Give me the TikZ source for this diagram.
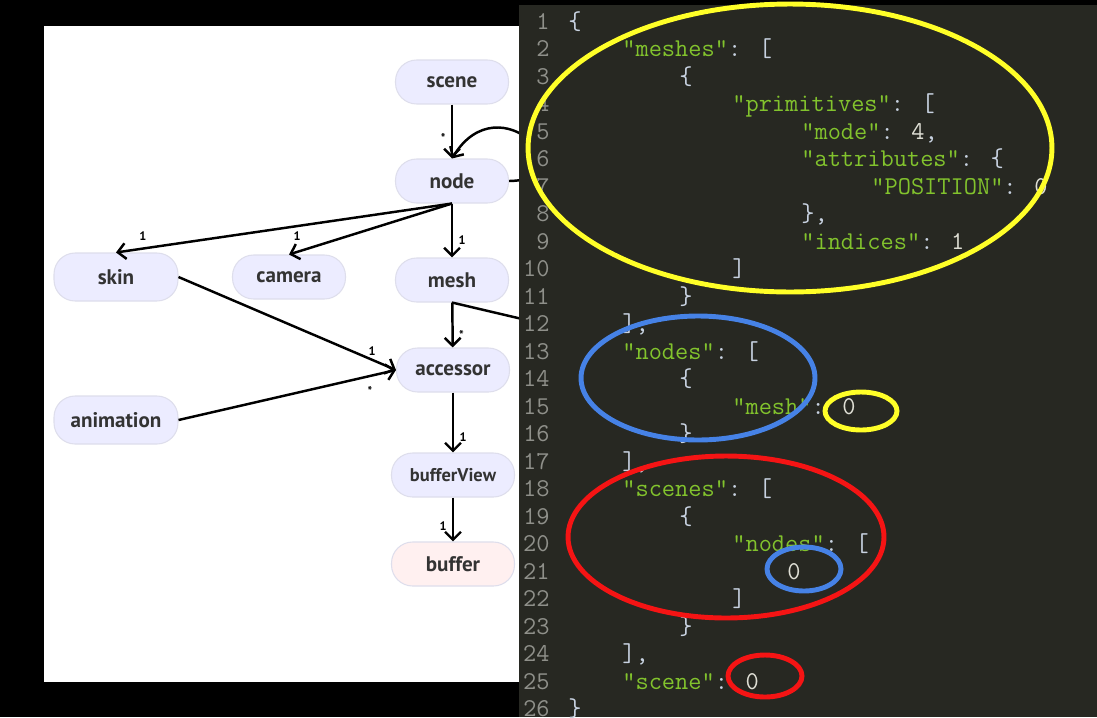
\documentclass[tikz,border=0pt]{standalone}
\usepackage{fontspec}
\usepackage{xcolor}
\usepackage{tikz}
\usetikzlibrary{arrows.meta}
\newfontfamily\diafont{PT Sans}
\definecolor{editorbg}{RGB}{39,40,34}
\definecolor{lnumgray}{RGB}{143,144,138}
\definecolor{jsgreen}{RGB}{130,195,45}
\definecolor{jspunct}{RGB}{200,210,225}
\definecolor{jsnum}{RGB}{222,222,212}
\definecolor{boxfill}{RGB}{236,236,255}
\definecolor{boxline}{RGB}{222,222,236}
\definecolor{buffill}{RGB}{255,240,240}
\definecolor{boxtext}{RGB}{51,51,51}
\definecolor{ringyellow}{RGB}{255,255,40}
\definecolor{ringblue}{RGB}{70,130,230}
\definecolor{ringred}{RGB}{245,20,20}
\newcommand{\js}[1]{\textcolor{jsgreen}{#1}}
\newcommand{\jp}[1]{\textcolor{jspunct}{#1}}
\newcommand{\jn}[1]{\textcolor{jsnum}{#1}}

\begin{document}
\begin{tikzpicture}[x=0.02cm, y=-0.02cm,
  box/.style={rectangle, rounded corners=12pt, draw=boxline, fill=boxfill,
              line width=0.6pt, minimum width=2.26cm, minimum height=0.88cm,
              text=boxtext, font=\diafont\bfseries\fontsize{12}{14}\selectfont},
  arr/.style={-{Straight Barb[length=4.5pt,width=9pt,line width=1.4pt]}, line width=1.4pt, black},
  lbl/.style={font=\diafont\bfseries\fontsize{7}{8}\selectfont, inner sep=1pt},
  lnum/.style={anchor=base east, inner sep=0pt, text=lnumgray,
               font=\ttfamily\fontsize{14.6}{16}\selectfont},
  code/.style={anchor=base west, inner sep=0pt,
               font=\ttfamily\fontsize{14.6}{16}\selectfont},
  ring/.style={line width=2.8pt}
]
\useasboundingbox (0,0) rectangle (1097,717);
\fill[black] (0,0) rectangle (1097,717);
\fill[white] (44,26) rectangle (519,682);

\node[box] (scene)     at (452,82)  {scene};
\node[box] (gltfnode)  at (452,181) {node};
\node[box] (mesh)      at (452,280) {mesh};
\node[box, minimum width=2.48cm, minimum height=0.96cm] (skin) at (116,277) {skin};
\node[box] (camera)    at (289,277) {camera};
\node[box] (accessor)  at (453,370) {accessor};
\node[box, minimum width=2.48cm, minimum height=0.96cm] (animation) at (116,420) {animation};
\node[box, minimum width=2.46cm, font=\diafont\bfseries\fontsize{10.5}{12}\selectfont]
  (bufview) at (453,475) {bufferView};
\node[box, minimum width=2.46cm, fill=buffill] (buffer) at (453,564) {buffer};
\coordinate (meshout) at (620,342);

\draw[arr] (scene) -- node[lbl, pos=0.62, left=2pt] {*} (gltfnode);
\draw[arr] (gltfnode.east) .. controls (590,180) and (500,80) .. (gltfnode.north);
\draw[arr] (gltfnode.south) -- node[lbl, pos=0.92, above=3pt] {1} (skin.north);
\draw[arr] (gltfnode.south) -- node[lbl, pos=0.95, above=5pt] {1} (camera.north);
\draw[arr] (gltfnode) -- node[lbl, pos=0.67, right=2pt] {1} (mesh);
\draw[arr] (skin.east) -- node[lbl, pos=0.89, above=1pt] {1} (accessor.west);
\draw[arr] (animation.east) -- node[lbl, pos=0.88, below=4pt] {*} (accessor.west);
\draw[arr] (mesh) -- node[lbl, pos=0.72, right=2pt] {*} (accessor);
\draw[arr] (mesh.south) -- (meshout);
\draw[arr] (accessor) -- node[lbl, pos=0.74, right=2pt] {1} (bufview);
\draw[arr] (bufview) -- node[lbl, pos=0.65, left=2pt] {1} (buffer);

\fill[editorbg] (519,5) rectangle (1097,717);
\foreach \n in {1,...,26}
  \node[lnum] (n\n) at (550,{29+(\n-1)*27.5}) {\n};

\node[code] (c1)  at (568,29)    {\jp{\{}};
\node[code] (c2)  at (622,56.5)  {\js{"meshes"}\jp{: [}};
\node[code] (c3)  at (679,84)    {\jp{\{}};
\node[code] (c4)  at (732,111.5) {\js{"primitives"}\jp{: [}};
\node[code] (c5)  at (801,139)   {\js{"mode"}\jp{: }\jn{4}\jp{,}};
\node[code] (c6)  at (801,166.5) {\js{"attributes"}\jp{: \{}};
\node[code] (c7)  at (871,194)   {\js{"POSITION"}\jp{: }\jn{0}};
\node[code] (c8)  at (801,221.5) {\jp{\},}};
\node[code] (c9)  at (801,249)   {\js{"indices"}\jp{: }\jn{1}};
\node[code] (c10) at (732,276.5) {\jp{]}};
\node[code] (c11) at (679,304)   {\jp{\}}};
\node[code] (c12) at (622,331.5) {\jp{],}};
\node[code] (c13) at (622,359)   {\js{"nodes"}\jp{: [}};
\node[code] (c14) at (679,386.5) {\jp{\{}};
\node[code] (c15) at (732,414)   {\js{"mesh"}\jp{: }\jn{0}};
\node[code] (c16) at (679,441.5) {\jp{\}}};
\node[code] (c17) at (622,469)   {\jp{],}};
\node[code] (c18) at (622,496.5) {\js{"scenes"}\jp{: [}};
\node[code] (c19) at (679,524)   {\jp{\{}};
\node[code] (c20) at (732,551.5) {\js{"nodes"}\jp{: [}};
\node[code] (c21) at (787,579)   {\jn{0}};
\node[code] (c22) at (732,606.5) {\jp{]}};
\node[code] (c23) at (679,634)   {\jp{\}}};
\node[code] (c24) at (622,661.5) {\jp{],}};
\node[code] (c25) at (622,689)   {\js{"scene"}\jp{: }\jn{0}};
\node[code] (c26) at (568,716.5) {\jp{\}}};

\draw[ring, ringyellow] (790,148) ellipse [x radius=5.24cm, y radius=2.88cm];
\draw[ring, ringyellow] (861,411) ellipse [x radius=0.72cm, y radius=0.38cm];
\draw[ring, ringblue]   (698,378) ellipse [x radius=2.34cm, y radius=1.24cm];
\draw[ring, ringblue]   (804,569) ellipse [x radius=0.74cm, y radius=0.44cm];
\draw[ring, ringred]    (726,537) ellipse [x radius=3.16cm, y radius=1.62cm];
\draw[ring, ringred]    (765,676) ellipse [x radius=0.74cm, y radius=0.42cm];
\end{tikzpicture}
\end{document}
